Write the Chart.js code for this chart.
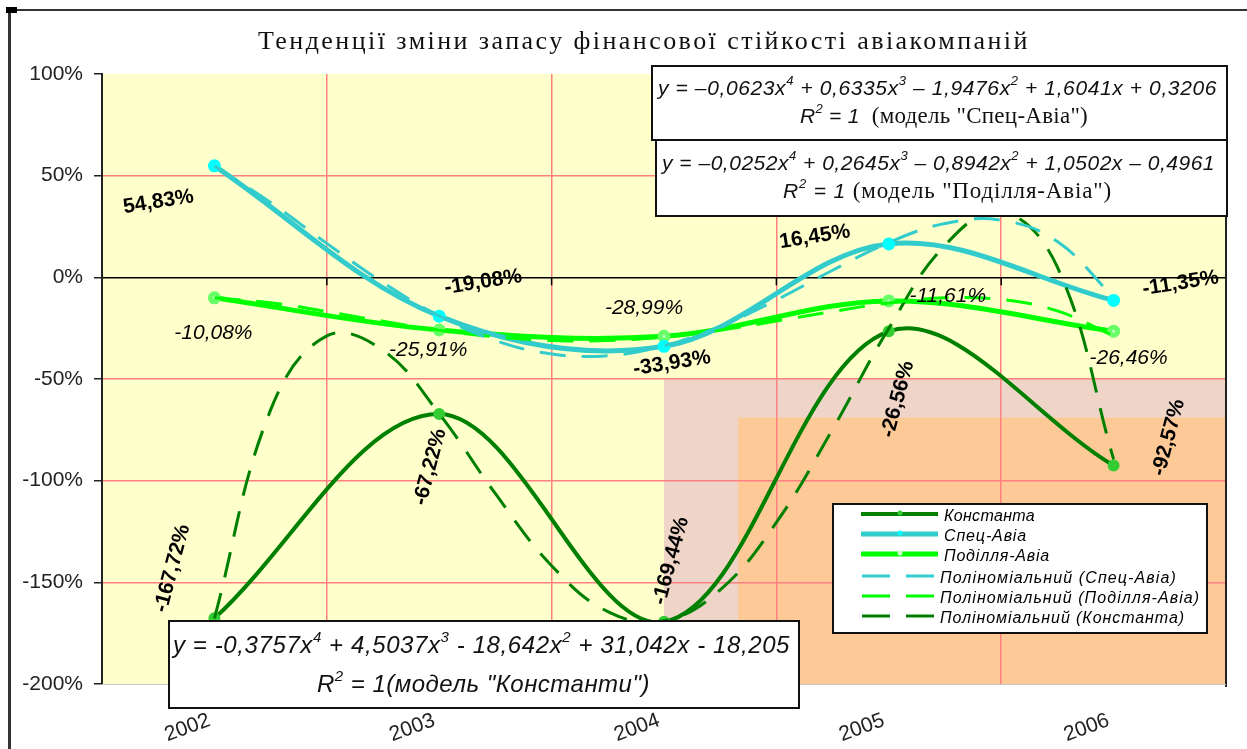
<!DOCTYPE html>
<html>
<head>
<meta charset="utf-8">
<title>Тенденції зміни запасу фінансової стійкості авіакомпаній</title>
<script src="https://cdn.jsdelivr.net/npm/chart.js@4.4.1/dist/chart.umd.min.js"></script>
<style>
  html, body { margin: 0; padding: 0; background: #fff; }
  canvas { display: block; }
</style>
</head>
<body>
<canvas id="chart" width="1247" height="749"></canvas>
<script>
// values
const years = ["2002", "2003", "2004", "2005", "2006"];
const konstanta    = [-167.72, -67.22, -169.44, -26.56, -92.57];
const spetsAvia    = [54.83, -19.08, -33.93, 16.45, -11.35];
const podillyaAvia = [-10.08, -25.91, -28.99, -11.61, -26.46];

// dashed polynomial trend curves, read at quarter steps (1 = 2002 ... 5 = 2006)
const trendX         = [1, 1.25, 1.5, 1.75, 2, 2.25, 2.5, 2.75, 3, 3.25, 3.5, 3.75, 4, 4.25, 4.5, 4.75, 5];
const trendKonstanta = [-167.7, -65.2, -28.8, -35.9, -67.1, -106.4, -141.8, -164.4, -168.9, -153.7, -120.5, -74.7, -25.1, 15.8, 32.5, 5.0, -89.5];
const trendSpets     = [54.8, 36.8, 16.7, -2.6, -19.0, -31.1, -37.7, -38.5, -33.7, -24.1, -11.1, 3.5, 17.1, 26.5, 28.1, 17.6, -9.9];
const trendPodillya  = [-10.1, -12.5, -16.8, -21.6, -26.0, -29.3, -31.1, -31.1, -29.3, -26.0, -21.5, -16.8, -12.6, -10.1, -10.9, -16.5, -28.8];

const yTicks = [100, 50, 0, -50, -100, -150, -200];

const chartTitle  = "Тенденції зміни запасу фінансової стійкості авіакомпаній";
const seriesNames = ["Константа", "Спец-Авіа", "Поділля-Авіа"];
const trendNames  = ["Поліноміальний (Спец-Авіа)", "Поліноміальний (Поділля-Авіа)", "Поліноміальний (Константа)"];

const eqSpets     = "y = –0,0623x^4 + 0,6335x^3 – 1,9476x^2 + 1,6041x + 0,3206";
const eqPodillya  = "y = –0,0252x^4 + 0,2645x^3 – 0,8942x^2 + 1,0502x – 0,4961";
const eqKonstanta = "y = -0,3757x^4 + 4,5037x^3 - 18,642x^2 + 31,042x - 18,205";

// ---------------------------------------------------------------
const SANS  = '"Liberation Sans", Arial, sans-serif';
const SERIF = '"Liberation Serif", "Times New Roman", serif';

const fmt = v => v.toFixed(2).replace('.', ',') + '%';

// text with ^n superscripts -> parts
function rich(str, size, style, supUp) {
  const f = `${style} ${size}px ${SANS}`;
  const sf = `${style} ${Math.round(size * 0.62)}px ${SANS}`;
  return str.split(/\^(\d)/).map((t, i) => i % 2 ? {t, f: sf, up: supUp} : {t, f}).filter(p => p.t);
}

// draw parts spread between x0 and x1
function drawFit(ctx, parts, x0, x1, y) {
  ctx.letterSpacing = '0px';
  let w = 0, n = 0;
  const widths = parts.map(p => { ctx.font = p.f; const m = ctx.measureText(p.t).width; w += m; n += p.t.length; return m; });
  const ls = n ? (x1 - x0 - w) / n : 0;
  ctx.letterSpacing = ls.toFixed(2) + 'px';
  let x = x0;
  parts.forEach((p, i) => {
    ctx.font = p.f;
    ctx.fillText(p.t, x, y - (p.up || 0));
    x += widths[i] + ls * p.t.length;
  });
  ctx.letterSpacing = '0px';
}

// shaded rectangles behind the plot (trend-axis units / percent)
const shadeBoxes = [
  {x0: 3.0,  x1: 5.5, y0: -50, y1: -200, color: '#efd5c7'},
  {x0: 3.33, x1: 5.5, y0: -69, y1: -200, color: '#fdc997'}
];

// per-series label styles: font, rotation, offsets from the point (px)
const labelStyles = [
  {font: `bold 21px ${SANS}`,   rot: -75, off: [[-42, -50], [-9, 53], [7, -61], [9, 68], [55, -28]]},
  {font: `bold 21px ${SANS}`,   rot: -9,  off: [[-56, 36], [44, -34], [8, 17], [-74, -7], [67, -17]]},
  {font: `italic 21px ${SANS}`, rot: 0,   off: [[-1, 35], [-11, 20], [-20, -28], [59, -5], [15, 27]]}
];

const eqBoxes = [
  {x0: 652, y0: 66, x1: 1227, y1: 140, lines: [
    {parts: rich(eqSpets, 21, 'italic', 10), x0: 658, x1: 1217, y: 95},
    {parts: rich('R^2 = 1  ', 21, 'italic', 10).concat([{t: '(модель "Спец-Авіа")', f: `23px ${SERIF}`}]), x0: 800, x1: 1088, y: 123}
  ]},
  {x0: 656, y0: 140, x1: 1227, y1: 216, lines: [
    {parts: rich(eqPodillya, 21, 'italic', 10), x0: 662, x1: 1215, y: 170},
    {parts: rich('R^2 = 1 ', 21, 'italic', 10).concat([{t: '(модель "Поділля-Авіа")', f: `23px ${SERIF}`}]), x0: 783, x1: 1112, y: 198}
  ]},
  {x0: 169, y0: 621, x1: 799, y1: 708, lines: [
    {parts: rich(eqKonstanta, 24, 'italic', 11), x0: 173, x1: 790, y: 653},
    {parts: rich('R^2 = 1(модель "Константи")', 24, 'italic', 11), x0: 317, x1: 650, y: 692}
  ]}
];

const legendBox = {x0: 833, y0: 504, x1: 1207, y1: 633,
  rows: [514, 534, 554, 576, 596, 616],
  textX0: [944, 944, 944, 940, 940, 940],
  textX1: [1035, 1027, 1050, 1177, 1200, 1185]};

const backdrop = {
  id: 'backdrop',
  beforeDraw(chart) {
    const {ctx, chartArea: a, scales} = chart;
    ctx.save();
    ctx.fillStyle = '#fff';
    ctx.fillRect(0, 0, chart.width, chart.height);
    ctx.fillStyle = '#ffffcc';
    ctx.fillRect(a.left, a.top, a.width, a.height);
    shadeBoxes.forEach(b => {
      const x0 = scales.xt.getPixelForValue(b.x0), x1 = scales.xt.getPixelForValue(b.x1);
      const y0 = scales.y.getPixelForValue(b.y0), y1 = scales.y.getPixelForValue(b.y1);
      ctx.fillStyle = b.color;
      ctx.fillRect(x0, y0, x1 - x0, y1 - y0);
    });
    ctx.restore();
  }
};

const pointLabels = {
  id: 'pointLabels',
  afterDatasetsDraw(chart) {
    const ctx = chart.ctx;
    ctx.save();
    ctx.fillStyle = '#000';
    ctx.textAlign = 'center';
    ctx.textBaseline = 'middle';
    labelStyles.forEach((st, di) => {
      const meta = chart.getDatasetMeta(di);
      const vals = chart.data.datasets[di].data;
      meta.data.forEach((pt, j) => {
        ctx.save();
        ctx.translate(pt.x + st.off[j][0], pt.y + st.off[j][1]);
        ctx.rotate(st.rot * Math.PI / 180);
        ctx.font = st.font;
        ctx.fillText(fmt(vals[j]), 0, 0);
        ctx.restore();
      });
    });
    ctx.restore();
  }
};

const decorations = {
  id: 'decorations',
  afterDraw(chart) {
    const {ctx, chartArea: a, scales} = chart;
    ctx.save();

    // right border and bottom edge of the plot
    ctx.strokeStyle = '#222';
    ctx.lineWidth = 2;
    ctx.beginPath();
    ctx.moveTo(a.right, a.top);
    ctx.lineTo(a.right, a.bottom + 3);
    ctx.stroke();
    ctx.strokeStyle = '#c8c8c8';
    ctx.lineWidth = 1;
    ctx.beginPath();
    ctx.moveTo(a.left, a.bottom + 0.5);
    ctx.lineTo(a.right, a.bottom + 0.5);
    ctx.stroke();

    // tick marks on the 0% line between the years
    const y0 = scales.y.getPixelForValue(0);
    ctx.strokeStyle = '#000';
    ctx.lineWidth = 1.5;
    for (let i = 1; i < years.length; i++) {
      const x = scales.xt.getPixelForValue(0.5 + i);
      ctx.beginPath();
      ctx.moveTo(x, y0);
      ctx.lineTo(x, y0 + 8);
      ctx.stroke();
    }

    // outer frame (cropped)
    ctx.fillStyle = '#333';
    ctx.fillRect(8, 9, 3, chart.height - 9);
    ctx.fillRect(8, 9, chart.width - 8, 2);
    ctx.fillStyle = '#000';
    ctx.fillRect(6, 7, 11, 6);

    // title
    ctx.fillStyle = '#111';
    ctx.textAlign = 'left';
    ctx.textBaseline = 'alphabetic';
    drawFit(ctx, [{t: chartTitle, f: `26px ${SERIF}`}], 258, 1030, 49);

    // equation boxes
    eqBoxes.forEach(b => {
      ctx.fillStyle = '#fff';
      ctx.fillRect(b.x0, b.y0, b.x1 - b.x0, b.y1 - b.y0);
      ctx.strokeStyle = '#111';
      ctx.lineWidth = 2;
      ctx.strokeRect(b.x0, b.y0, b.x1 - b.x0, b.y1 - b.y0);
      ctx.fillStyle = '#111';
      b.lines.forEach(l => drawFit(ctx, l.parts, l.x0, l.x1, l.y));
    });

    // legend
    const L = legendBox;
    ctx.fillStyle = '#fff';
    ctx.fillRect(L.x0, L.y0, L.x1 - L.x0, L.y1 - L.y0);
    ctx.strokeStyle = '#111';
    ctx.lineWidth = 2;
    ctx.strokeRect(L.x0, L.y0, L.x1 - L.x0, L.y1 - L.y0);
    chart.data.datasets.forEach((ds, i) => {
      const y = L.rows[i];
      ctx.strokeStyle = ds.borderColor;
      ctx.lineWidth = ds.borderWidth;
      ctx.setLineDash(ds.borderDash ? [28, 16] : []);
      ctx.beginPath();
      ctx.moveTo(ds.borderDash ? 862 : 861, y);
      ctx.lineTo(ds.borderDash ? 934 : 938, y);
      ctx.stroke();
      ctx.setLineDash([]);
      if (!ds.borderDash) {
        ctx.fillStyle = ds.pointBackgroundColor;
        ctx.beginPath();
        ctx.arc(900, y - 1, 2.5, 0, Math.PI * 2);
        ctx.fill();
      }
      ctx.fillStyle = '#000';
      ctx.textBaseline = 'middle';
      drawFit(ctx, [{t: ds.label, f: `italic 16px ${SANS}`}], L.textX0[i], L.textX1[i], y + 3);
    });

    ctx.restore();
  }
};

const trendData = ys => trendX.map((x, i) => ({x, y: ys[i]}));

new Chart(document.getElementById('chart'), {
  type: 'line',
  data: {
    labels: years,
    datasets: [
      {label: seriesNames[0], data: konstanta, borderColor: '#008000', borderWidth: 4,
       pointRadius: 4, pointBackgroundColor: '#33cc33', pointBorderColor: '#33cc33', tension: 0.35, order: 1},
      {label: seriesNames[1], data: spetsAvia, borderColor: '#33cccc', borderWidth: 5,
       pointRadius: 4, pointBackgroundColor: '#00ffff', pointBorderColor: '#00ffff', tension: 0.35, order: 1},
      {label: seriesNames[2], data: podillyaAvia, borderColor: '#00ff00', borderWidth: 5,
       pointRadius: 4, pointBackgroundColor: '#ccffcc', pointBorderColor: '#66ff66', tension: 0.35, order: 1},
      {label: trendNames[0], xAxisID: 'xt', data: trendData(trendSpets), borderColor: '#33cccc', borderWidth: 3,
       borderDash: [26, 16], pointRadius: 0, tension: 0.4, order: 0},
      {label: trendNames[1], xAxisID: 'xt', data: trendData(trendPodillya), borderColor: '#00ff00', borderWidth: 3,
       borderDash: [26, 16], pointRadius: 0, tension: 0.4, order: 0},
      {label: trendNames[2], xAxisID: 'xt', data: trendData(trendKonstanta), borderColor: '#008000', borderWidth: 3,
       borderDash: [26, 16], pointRadius: 0, tension: 0.4, order: 0}
    ]
  },
  options: {
    responsive: false,
    animation: false,
    events: [],
    layout: {padding: {top: 74, right: 21, bottom: 0, left: 0}},
    plugins: {
      legend: {display: false},
      tooltip: {enabled: false}
    },
    scales: {
      x: {
        type: 'category',
        offset: true,
        grid: {offset: true, color: '#ff8080', lineWidth: 1.5, drawTicks: false},
        border: {display: false},
        ticks: {minRotation: 20, maxRotation: 20, padding: 24, labelOffset: -5, color: '#222', font: {family: SANS, size: 21}},
        afterFit: s => { s.height = 65; }
      },
      xt: {type: 'linear', display: false, min: 0.5, max: 5.5},
      y: {
        min: -200, max: 100,
        afterBuildTicks: s => { s.ticks = yTicks.map(v => ({value: v})); },
        grid: {
          color: c => {
            const v = c.tick ? c.tick.value : null;
            if (v === 0) return '#000';
            if (v === 100 || v === -200) return 'rgba(0,0,0,0)';
            return '#ff8080';
          },
          lineWidth: 1.5, tickColor: '#222', tickLength: 8
        },
        border: {color: '#222', width: 2},
        ticks: {callback: v => v + '%', color: '#222', padding: 11, font: {family: SANS, size: 21}},
        afterFit: s => { s.width = 102; }
      }
    }
  },
  plugins: [backdrop, pointLabels, decorations]
});
</script>
</body>
</html>
